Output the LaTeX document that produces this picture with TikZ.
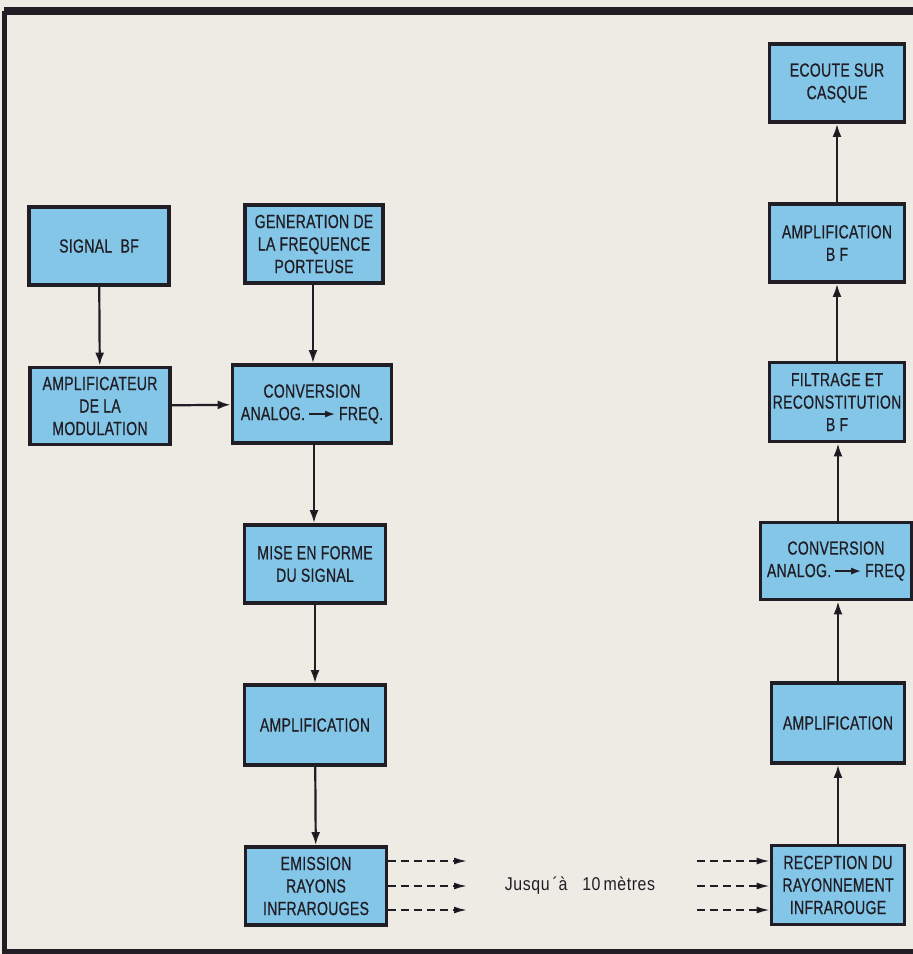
\documentclass[tikz,border=0pt]{standalone}
\usepackage{fontspec}
\setmainfont{Liberation Sans}[FakeStretch=0.74, LetterSpace=1.5, FakeBold=0.6]
\newfontfamily\plainfont{Liberation Sans}[FakeStretch=0.86, LetterSpace=3]
\usetikzlibrary{arrows.meta}
\definecolor{paper}{RGB}{237,235,228}
\definecolor{boxblue}{RGB}{132,198,232}
\definecolor{ink}{RGB}{32,30,36}
\tikzset{
  blk/.style={draw=ink, line width=3.8pt, fill=boxblue, rectangle, inner sep=0pt,
    align=center, text=ink, font=\fontsize{19}{22.5}\selectfont},
  flow/.style={draw=ink, line width=2.2pt, -{Latex[length=13pt,width=9pt]}},
  ray/.style={draw=ink, line width=1.7pt, dash pattern=on 8pt off 5pt, -{Latex[length=13pt,width=7pt]}}
}
\newcommand{\txtarrow}{\,\tikz[baseline=-0.6ex]\draw[ink,line width=1.6pt,-{Latex[length=10pt,width=7pt]}] (0,0)--(26pt,0);\,}
\begin{document}
\begin{tikzpicture}[x=1pt,y=-1pt]
\useasboundingbox (0,0) rectangle (913,954);
\fill[paper] (0,0) rectangle (913,954);
\draw[ink,line width=8pt] (4,11) -- (930,11);
\draw[ink,line width=5pt] (4,11) -- (4,951) -- (930,951);

\node[blk, minimum width=140pt, minimum height=78pt] (sig) at (99,246) {SIGNAL\ \ BF};
\node[blk, minimum width=138pt, minimum height=78pt] (gen) at (314,244) {GENERATION DE\\LA FREQUENCE\\PORTEUSE};
\node[blk, minimum width=140pt, minimum height=77pt] (mod) at (100,406) {AMPLIFICATEUR\\DE LA\\MODULATION};
\node[blk, minimum width=159pt, minimum height=78pt] (conv) at (312,404) {CONVERSION\\ANALOG.\txtarrow FREQ.};
\node[blk, minimum width=141pt, minimum height=78pt] (mise) at (315,564) {MISE EN FORME\\DU SIGNAL};
\node[blk, minimum width=141pt, minimum height=80pt] (ampl) at (315,725) {AMPLIFICATION};
\node[blk, minimum width=141pt, minimum height=78pt] (emis) at (316,886) {EMISSION\\RAYONS\\INFRAROUGES};

\node[blk, minimum width=135pt, minimum height=78pt] (ecoute) at (837,83) {ECOUTE SUR\\CASQUE};
\node[blk, minimum width=135pt, minimum height=78pt] (ampbf) at (837,243) {AMPLIFICATION\\B F};
\node[blk, minimum width=135pt, minimum height=79pt] (filt) at (837,402) {FILTRAGE ET\\RECONSTITUTION\\B F};
\node[blk, minimum width=151pt, minimum height=77pt] (conv2) at (836,561) {CONVERSION\\ANALOG.\txtarrow FREQ};
\node[blk, minimum width=133pt, minimum height=80pt] (ampr) at (838,723) {AMPLIFICATION};
\node[blk, minimum width=133pt, minimum height=79pt] (recep) at (838,885) {RECEPTION DU\\RAYONNEMENT\\INFRAROUGE};

\draw[flow] (sig) -- (mod);
\draw[flow] (gen.south -| 313,0) -- (conv.north -| 313,0);
\draw[flow] (mod) -- (conv);
\draw[flow] (conv.south -| 314,0) -- (mise.north -| 314,0);
\draw[flow] (mise) -- (ampl);
\draw[flow] (ampl) -- (emis);

\draw[flow] (recep) -- (ampr);
\draw[flow] (ampr.north -| 838,0) -- (conv2.south -| 838,0);
\draw[flow] (conv2.north -| 838,0) -- (filt.south -| 838,0);
\draw[flow] (filt) -- (ampbf);
\draw[flow] (ampbf) -- (ecoute);

\coordinate (e1) at (467,861);
\coordinate (e2) at (467,886);
\coordinate (e3) at (467,910);
\coordinate (r1) at (697,861);
\coordinate (r2) at (697,886);
\coordinate (r3) at (697,910);
\draw[ray] (emis.east |- e1) -- (e1);
\draw[ray] (emis.east |- e2) -- (e2);
\draw[ray] (emis.east |- e3) -- (e3);
\draw[ray] (r1) -- (recep.west |- r1);
\draw[ray] (r2) -- (recep.west |- r2);
\draw[ray] (r3) -- (recep.west |- r3);

\node[text=ink, font=\plainfont\fontsize{18.5}{20}\selectfont] (dist) at (580,886) {Jusqu\,´à\ \ \ 10\,mètres};
\end{tikzpicture}
\end{document}
